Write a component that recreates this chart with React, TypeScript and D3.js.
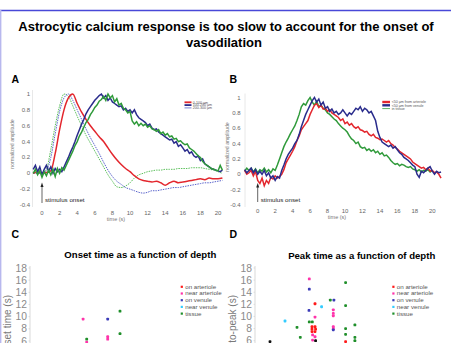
import React from 'react';
import * as d3 from 'd3';

// ---------- Panel A (time courses by depth) ----------
const A_NOISY_START = -1; // step 0.25
const A_NAVY = [0.05,0.10,0.02,0.08,-0.02,0.05,0.10,0.03,0.08,0.00,0.06,0.02,0.05,0.02,0.08,0.14,0.20,0.27,0.33,0.40,0.48,0.55,0.62,0.68,0.75,0.80,0.84,0.88,0.92,0.95,0.98,1.00,0.95,0.98,0.92,0.95,0.90,0.88,0.86,0.84,0.85,0.80,0.82,0.78,0.80,0.76,0.80,0.74,0.70,0.68,0.66,0.64,0.60,0.62,0.57,0.55,0.56,0.52,0.50,0.48,0.46,0.44,0.42,0.43,0.38,0.40,0.34,0.36,0.32,0.28,0.30,0.25,0.27,0.22,0.20,0.22,0.16,0.18,0.12,0.10,0.08,0.06,0.05,0.04,0.03,0.02,0.04];
const A_GREEN = [0.00,0.05,-0.02,0.03,-0.05,0.02,-0.03,0.04,-0.02,0.05,-0.04,0.06,0.00,0.07,0.04,0.10,0.16,0.22,0.28,0.35,0.40,0.47,0.52,0.58,0.64,0.68,0.74,0.78,0.83,0.86,0.91,0.93,0.97,0.92,1.00,0.95,0.98,0.90,0.94,0.86,0.88,0.82,0.80,0.76,0.78,0.66,0.62,0.65,0.60,0.63,0.60,0.62,0.58,0.60,0.56,0.55,0.53,0.55,0.50,0.52,0.48,0.50,0.46,0.47,0.43,0.44,0.40,0.41,0.38,0.36,0.37,0.32,0.30,0.28,0.25,0.22,0.20,0.15,0.12,0.10,0.08,0.06,0.05,0.04,0.03,0.10,0.04];
const A_SMOOTH_START = -1; // step 0.5
const A_RED = [0.00,0.02,0.00,0.01,0.03,0.25,0.55,0.80,0.95,1.00,0.88,0.77,0.68,0.60,0.53,0.46,0.40,0.32,0.24,0.17,0.11,0.06,0.02,-0.03,-0.07,-0.09,-0.10,-0.11,-0.10,-0.12,-0.15,-0.12,-0.10,-0.12,-0.11,-0.10,-0.09,-0.08,-0.07,-0.08,-0.06,-0.07,-0.07,-0.06];
const A_GREEN_DOT = [0.00,0.00,0.00,0.05,0.30,0.60,0.85,1.00,0.97,0.85,0.72,0.60,0.48,0.38,0.28,0.18,0.08,-0.02,-0.10,-0.17,-0.18,-0.16,-0.12,-0.06,-0.02,0.00,0.02,0.03,0.04,0.04,0.05,0.05,0.05,0.06,0.06,0.06,0.07,0.07,0.07,0.06,0.05,0.04,0.02,0.00];
const A_BLUE_DOT = [0.00,0.00,0.00,0.03,0.20,0.50,0.78,0.95,1.00,0.92,0.80,0.68,0.56,0.45,0.35,0.25,0.14,0.04,-0.04,-0.10,-0.14,-0.18,-0.20,-0.22,-0.24,-0.25,-0.24,-0.22,-0.22,-0.21,-0.20,-0.19,-0.18,-0.18,-0.17,-0.16,-0.15,-0.14,-0.13,-0.12,-0.12,-0.11,-0.10,-0.09];
const A_LEGEND = ['0-100 µm', '100-200 µm', '200-300 µm'];

// ---------- Panel B (time courses by location) ----------
const B_START = -1.5; // step 0.25
const B_GREEN = [0.04,0.08,0.05,0.08,0.03,0.07,0.02,0.06,0.04,0.08,0.03,0.06,0.02,0.07,0.05,0.12,0.20,0.28,0.36,0.42,0.47,0.53,0.58,0.63,0.70,0.78,0.88,0.92,0.90,0.96,1.00,0.94,0.90,0.95,0.88,0.90,0.86,0.84,0.80,0.78,0.75,0.72,0.70,0.66,0.63,0.60,0.58,0.55,0.50,0.46,0.44,0.40,0.42,0.36,0.34,0.35,0.31,0.33,0.30,0.32,0.28,0.30,0.26,0.28,0.24,0.25,0.22,0.18,0.15,0.13,0.14,0.11,0.13,0.12,0.10,0.09,0.10,0.07,0.06,0.04,0.06,0.03,0.05,0.04,0.06,0.03,0.05];
const B_RED = [0.05,0.00,0.02,0.05,-0.02,0.04,-0.08,-0.12,-0.05,-0.15,-0.08,-0.12,-0.04,-0.06,-0.02,-0.05,-0.03,0.00,0.06,0.15,0.20,0.25,0.30,0.36,0.44,0.50,0.58,0.62,0.66,0.70,0.78,0.84,0.90,0.92,0.87,0.90,0.85,0.86,0.82,0.84,0.80,0.78,0.76,0.74,0.70,0.72,0.66,0.68,0.64,0.66,0.62,0.60,0.62,0.58,0.57,0.55,0.56,0.52,0.50,0.52,0.48,0.47,0.45,0.46,0.44,0.42,0.44,0.40,0.38,0.35,0.33,0.30,0.28,0.26,0.24,0.22,0.20,0.16,0.14,0.12,0.10,0.08,0.09,0.06,0.08,0.04,0.05,0.02,0.03,0.00,-0.05];
const B_NAVY = [0.06,0.02,0.05,0.08,0.02,0.06,0.00,0.04,0.00,0.05,-0.02,0.02,-0.05,-0.02,-0.08,-0.03,-0.05,0.05,0.12,0.20,0.26,0.30,0.34,0.40,0.44,0.52,0.62,0.70,0.78,0.84,0.90,0.96,1.00,0.94,0.98,0.90,0.94,0.86,0.88,0.82,0.85,0.80,0.82,0.78,0.80,0.84,0.80,0.76,0.80,0.78,0.82,0.86,0.84,0.88,0.82,0.86,0.84,0.80,0.82,0.76,0.70,0.56,0.48,0.42,0.40,0.38,0.36,0.38,0.34,0.36,0.32,0.28,0.26,0.22,0.20,0.18,0.15,0.12,0.10,0.00,-0.04,0.04,0.02,0.05,0.08,0.10,0.04,0.00,0.04,0.02,0.03];
const B_LEGEND = ['<50 µm from arteriole', '<50 µm from venule', 'in tissue'];

const TIME_TICKS = [0, 2, 4, 6, 8, 10, 12, 14, 16, 18, 20];
const AMP_TICKS = [-0.4, -0.2, 0, 0.2, 0.4, 0.6, 0.8, 1];

// ---------- Panels C & D (scatter vs depth) ----------
const DEPTH_TICKS = [6, 8, 10, 12, 14, 16, 18];
const TYPES = ['on arteriole', 'near arteriole', 'on venule', 'near venule', 'tissue'];
const TYPE_COLORS = ['#ff1a1a', '#ff33aa', '#3b3bb8', '#33ccff', '#1f8f2a', '#111111'];

const C_DEPTH = [177, 259, 300, 259, 259, 300, 189, 189];
const C_ONSET = [9.6, 9.6, 10.9, 6.7, 6.3, 7.2, 6.3, 5.8];
const C_TYPE = [1, 2, 4, 1, 1, 4, 4, 1];

const D_DEPTH = [181, 302, 181, 251, 263, 200, 222, 302, 180, 261, 261, 261, 200, 100, 181, 191, 333, 140, 190, 200, 190, 202, 190, 200, 261, 261, 261, 302, 302, 333, 333, 151, 192, 200, 50, 202, 302, 192];
const D_PEAK = [16.2, 15.6, 14.5, 12.7, 12.7, 12.1, 11.6, 11.8, 11.0, 11.1, 10.5, 10.1, 9.9, 9.25, 9.1, 9.1, 8.6, 8.2, 8.3, 8.3, 7.9, 7.9, 7.5, 7.5, 8.3, 8.0, 7.8, 8.0, 7.05, 6.55, 6.0, 6.55, 6.95, 6.65, 5.85, 6.0, 5.85, 6.1];
const D_TYPE = [1, 4, 2, 4, 2, 0, 3, 4, 2, 1, 1, 1, 1, 3, 4, 4, 4, 4, 0, 0, 0, 0, 0, 0, 1, 1, 2, 4, 4, 4, 4, 4, 1, 1, 5, 5, 0, 1];

const FONT = 'Liberation Sans, Arial, Helvetica, sans-serif';
const RED = '#e3262d';
const NAVY = '#2a2c8c';
const GREEN = '#2f9a3a';
const GREEN_DOT = '#5cc05c';
const BLUE_DOT = '#5a64cc';

function series(arr: number[], start: number, step: number, x: any, y: any, curve: any) {
  const g = d3.line<number>()
    .x((_, i) => x(start + i * step))
    .y((d) => y(d))
    .curve(curve);
  return g(arr) || '';
}

function TimePanel(props: {
  x0: number; x20: number; yTop: number; yBot: number; left: number; right: number;
  label: string; lx: number; yLabelX: number; yLabelY: number; tickRight: number;
  xTickY: number; xTitleY: number; xTitleX: number; children: (x: any, y: any) => React.ReactNode;
}) {
  const x = d3.scaleLinear().domain([0, 20]).range([props.x0, props.x20]);
  const y = d3.scaleLinear().domain([-0.4, 1]).range([props.yBot, props.yTop]);
  return (
    <g>
      <text x={props.lx} y={82.7} fontSize={10.5} fontWeight="bold" fontFamily={FONT}>{props.label}</text>
      <line x1={props.left} x2={props.left} y1={props.yTop - 4} y2={props.yBot + 2} stroke="#e2e2e2" strokeWidth={0.8} />
      {AMP_TICKS.map((t) => (
        <text key={t} x={props.tickRight} y={y(t) + 2} fontSize={6} fill="#666" textAnchor="end" fontFamily={FONT}>{t}</text>
      ))}
      {TIME_TICKS.map((t) => (
        <text key={t} x={x(t)} y={props.xTickY} fontSize={6} fill="#666" textAnchor="middle" fontFamily={FONT}>{t}</text>
      ))}
      <text x={props.xTitleX} y={props.xTitleY} fontSize={5.5} fill="#777" textAnchor="middle" fontFamily={FONT}>time (s)</text>
      <text transform={`translate(${props.yLabelX},${props.yLabelY}) rotate(-90)`} fontSize={5.2} fill="#777" textAnchor="middle" fontFamily={FONT}>normalized amplitude</text>
      {props.children(x, y)}
    </g>
  );
}

function ScatterPanel(props: {
  axisX: number; yTop: number; yBot: number; xLeft: number; label: string; lx: number;
  title: string; titleX: number; titleY: number; yTitle: string; yTitleX: number;
  depth: number[]; vals: number[]; types: number[]; legendX: number;
}) {
  const x = d3.scaleLinear().domain([0, 400]).range([props.xLeft, props.xLeft + 120]);
  const y = d3.scaleLinear().domain([6, 18]).range([props.yBot, props.yTop]);
  return (
    <g>
      <text x={props.lx} y={237.5} fontSize={10.5} fontWeight="bold" fontFamily={FONT}>{props.label}</text>
      <text x={props.titleX} y={props.titleY} fontSize={9.6} fontWeight="bold" textAnchor="middle" fontFamily={FONT}>{props.title}</text>
      <line x1={props.axisX} x2={props.axisX} y1={y(18) - 2} y2={345} stroke="#cfcfcf" strokeWidth={0.8} />
      {DEPTH_TICKS.map((t) => (
        <g key={t}>
          <line x1={props.axisX - 1.5} x2={props.axisX} y1={y(t)} y2={y(t)} stroke="#cfcfcf" strokeWidth={0.6} />
          <text x={props.axisX - 3} y={y(t) + 3.5} fontSize={10.3} fill="#8a8a8a" textAnchor="end" fontFamily={FONT}>{t}</text>
        </g>
      ))}
      <text transform={`translate(${props.yTitleX},295) rotate(-90)`} fontSize={10} fill="#7a7a7a" textAnchor="end" fontFamily={FONT}>{props.yTitle}</text>
      {props.depth.map((d, i) => (
        <rect key={i} x={x(d) - 1.4} y={y(props.vals[i]) - 1.4} width={2.8} height={2.8} rx={0.9} fill={TYPE_COLORS[props.types[i]]} />
      ))}
      {TYPES.map((t, i) => (
        <g key={t}>
          <rect x={props.legendX - 1} y={286.7 + i * 6.7 - 1} width={2.2} height={2.2} fill={TYPE_COLORS[i]} />
          <text x={props.legendX + 3.5} y={286.7 + i * 6.7 + 2} fontSize={6.2} fill="#555" fontFamily={FONT}>{t}</text>
        </g>
      ))}
    </g>
  );
}

export default function App() {
  return (
    <svg width={451} height={343} style={{ position: 'fixed', left: 0, top: 0, background: '#fff' }}>
      <rect x={0} y={0} width={451} height={343} fill="#fff" />
      <line x1={0} x2={451} y1={10.5} y2={10.5} stroke="#4848d8" strokeWidth={1.4} />
      <line x1={0.7} x2={0.7} y1={10} y2={343} stroke="#b8b8ee" strokeWidth={1.4} />
      <text x={226} y={30.5} fontSize={13} fontWeight="bold" textAnchor="middle" fontFamily={FONT}>Astrocytic calcium response is too slow to account for the onset of</text>
      <text x={224} y={46.5} fontSize={13} fontWeight="bold" textAnchor="middle" fontFamily={FONT}>vasodilation</text>

      <TimePanel x0={42} x20={218} yTop={94} yBot={205} left={32.5} right={228} label="A" lx={11.5}
        yLabelX={13.5} yLabelY={144} tickRight={30} xTickY={214.5} xTitleY={220.5} xTitleX={116}>
        {(x, y) => (
          <g>
            <path d={series(A_GREEN_DOT, A_SMOOTH_START, 0.5, x, y, d3.curveMonotoneX)} fill="none" stroke={GREEN_DOT} strokeWidth={1} strokeDasharray="1.5,1" />
            <path d={series(A_BLUE_DOT, A_SMOOTH_START, 0.5, x, y, d3.curveMonotoneX)} fill="none" stroke={BLUE_DOT} strokeWidth={1} strokeDasharray="1.5,1" />
            <path d={series(A_RED, A_SMOOTH_START, 0.5, x, y, d3.curveMonotoneX)} fill="none" stroke={RED} strokeWidth={1.5} />
            <path d={series(A_NAVY, A_NOISY_START, 0.25, x, y, d3.curveLinear)} fill="none" stroke={NAVY} strokeWidth={1.5} />
            <path d={series(A_GREEN, A_NOISY_START, 0.25, x, y, d3.curveLinear)} fill="none" stroke={GREEN} strokeWidth={1.5} />
            <line x1={x(0)} x2={x(0)} y1={203} y2={185} stroke="#222" strokeWidth={0.7} />
            <path d={`M${x(0) - 1.5},${187} L${x(0)},${182.5} L${x(0) + 1.5},${187} Z`} fill="#222" />
            <text x={x(0) + 3} y={202} fontSize={6.2} fill="#222" fontFamily={FONT}>stimulus onset</text>
            {[RED, NAVY, BLUE_DOT].map((c, i) => (
              <g key={i}>
                <line x1={184.5} x2={191.5} y1={102.3 + i * 2.8} y2={102.3 + i * 2.8} stroke={c} strokeWidth={i < 2 ? 1.8 : 0.8} />
                <text x={192.8} y={103.6 + i * 2.8} fontSize={3.6} fill="#555" fontFamily={FONT}>{A_LEGEND[i]}</text>
              </g>
            ))}
          </g>
        )}
      </TimePanel>

      <TimePanel x0={257.7} x20={432.3} yTop={97.5} yBot={205} left={245} right={440} label="B" lx={229.5}
        yLabelX={229.3} yLabelY={147} tickRight={240.5} xTickY={213} xTitleY={219} xTitleX={337}>
        {(x, y) => (
          <g>
            <path d={series(B_GREEN, B_START, 0.25, x, y, d3.curveLinear)} fill="none" stroke={GREEN} strokeWidth={1.5} />
            <path d={series(B_RED, B_START, 0.25, x, y, d3.curveLinear)} fill="none" stroke={RED} strokeWidth={1.5} />
            <path d={series(B_NAVY, B_START, 0.25, x, y, d3.curveLinear)} fill="none" stroke={NAVY} strokeWidth={1.5} />
            <line x1={x(0)} x2={x(0)} y1={202} y2={185.5} stroke="#222" strokeWidth={0.7} />
            <path d={`M${x(0) - 1.5},${187.5} L${x(0)},${183} L${x(0) + 1.5},${187.5} Z`} fill="#222" />
            <text x={x(0) + 3} y={201.5} fontSize={6.2} fill="#222" fontFamily={FONT}>stimulus onset</text>
            {[RED, NAVY, GREEN].map((c, i) => (
              <g key={i}>
                <line x1={382.3} x2={390} y1={102 + i * 3.3} y2={102 + i * 3.3} stroke={c} strokeWidth={i < 2 ? 2.4 : 0.8} />
                <text x={391.7} y={103.3 + i * 3.3} fontSize={3.6} fill="#555" fontFamily={FONT}>{B_LEGEND[i]}</text>
              </g>
            ))}
          </g>
        )}
      </TimePanel>

      <ScatterPanel axisX={30} yTop={268} yBot={341} xLeft={30} label="C" lx={11.5}
        title="Onset time as a function of depth" titleX={140.3} titleY={258.3}
        yTitle="Onset time (s)" yTitleX={10.5} depth={C_DEPTH} vals={C_ONSET} types={C_TYPE} legendX={181.7} />
      <ScatterPanel axisX={255} yTop={268} yBot={340.7} xLeft={255} label="D" lx={229.5}
        title="Peak time as a function of depth" titleX={361.7} titleY={259}
        yTitle="time-to-peak (s)" yTitleX={235.5} depth={D_DEPTH} vals={D_PEAK} types={D_TYPE} legendX={393.3} />
    </svg>
  );
}
